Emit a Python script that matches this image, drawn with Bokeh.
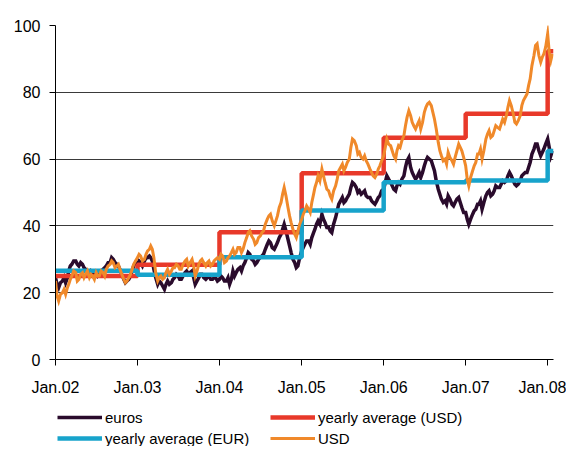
import datetime as dt
from bokeh.plotting import figure
from bokeh.layouts import column
from bokeh.models import Range1d, FixedTicker, DatetimeTickFormatter, Legend, LegendItem
from bokeh.embed import file_html
from bokeh.resources import INLINE

# ---------------- data ----------------
tick_labels = ["Jan.02", "Jan.03", "Jan.04", "Jan.05", "Jan.06", "Jan.07", "Jan.08"]
tick_years = [2002, 2003, 2004, 2005, 2006, 2007, 2008]

# weekly readings (days 1, 8, 15, 23 of each month), USD per barrel
usd_2002 = [23.5, 19.0, 17.5, 19.5, 20.0, 21.0, 19.5, 21.5, 22.5, 24.0, 25.0, 26.5,
            26.0, 23.5, 24.0, 25.5, 26.0, 24.5, 25.5, 26.5, 24.5, 25.5, 25.0, 24.0,
            26.0, 25.0, 25.0, 26.5, 26.0, 25.0, 27.0, 28.0, 28.5, 29.5, 29.0, 27.5,
            28.0, 28.5, 27.0, 25.5, 24.0, 23.0, 23.5, 24.5, 25.5, 27.0, 28.5, 29.5]
usd_2003 = [30.5, 31.5, 31.0, 29.5, 30.0, 31.5, 32.5, 33.0, 34.0, 33.0, 30.5, 26.0,
            23.5, 24.5, 25.0, 24.0, 24.5, 26.0, 27.0, 25.5, 26.5, 27.5, 27.5, 28.5,
            28.0, 27.0, 27.0, 28.5, 29.5, 30.0, 28.0, 29.0, 30.0, 28.0, 25.0, 26.5,
            28.5, 29.5, 30.0, 29.0, 28.0, 29.0, 29.5, 28.0, 28.5, 29.5, 30.0, 30.5]
usd_2004 = [30.0, 31.5, 31.0, 29.0, 29.5, 30.5, 31.0, 32.0, 33.0, 31.5, 32.0, 33.5,
            33.5, 32.0, 33.0, 35.0, 36.5, 38.0, 38.5, 37.0, 36.0, 34.5, 35.0, 36.5,
            37.0, 38.0, 38.5, 40.5, 42.0, 43.0, 43.5, 41.5, 40.0, 41.5, 43.0, 45.5,
            47.0, 49.5, 51.5, 49.0, 45.5, 43.0, 41.0, 39.0, 37.5, 36.5, 38.5, 40.5]
usd_2005 = [42.0, 43.5, 44.5, 46.0, 45.0, 44.0, 47.0, 49.5, 51.5, 53.0, 55.0, 53.5,
            57.0, 55.0, 53.0, 51.0, 50.5, 49.0, 48.0, 50.5, 52.0, 54.0, 56.5, 57.5,
            58.5, 56.5, 57.5, 59.0, 60.0, 63.5, 66.0, 65.5, 64.0, 61.5, 62.0, 60.5,
            60.0, 61.0, 59.5, 58.5, 57.0, 56.0, 55.0, 54.5, 55.5, 57.0, 58.0, 59.5]
usd_2006 = [61.0, 63.5, 66.0, 64.5, 64.0, 62.5, 61.0, 60.0, 62.5, 64.0, 63.5, 65.5,
            67.0, 70.0, 72.5, 74.5, 73.0, 71.0, 70.0, 69.0, 70.5, 71.5, 69.0, 71.0,
            74.0, 75.5, 76.5, 77.0, 76.0, 74.0, 72.0, 69.0, 65.0, 62.5, 61.0, 59.5,
            60.0, 58.5, 62.0, 60.5, 59.5, 58.5, 60.5, 62.5, 64.5, 63.5, 62.5, 60.5]
usd_2007 = [58.0, 54.0, 52.0, 54.5, 56.5, 58.0, 59.0, 61.5, 61.5, 63.0, 60.0, 62.5,
            66.0, 67.5, 68.5, 66.5, 67.0, 68.5, 70.0, 69.5, 69.0, 70.5, 72.0, 71.0,
            73.0, 75.5, 77.5, 76.0, 73.5, 71.0, 70.5, 71.5, 73.0, 76.0, 77.5, 78.5,
            79.5, 82.0, 84.0, 88.0, 91.0, 94.0, 94.5, 91.0, 89.0, 90.5, 91.5, 93.5]
usd_2008 = [97.5, 92.0, 89.5, 91.5]

# weekly readings, EUR per barrel
eur_2002 = [24.5, 22.5, 21.5, 23.0, 23.5, 24.5, 23.0, 24.5, 26.5, 28.0, 28.5, 29.5,
            29.5, 28.5, 28.0, 29.0, 28.5, 27.5, 27.0, 26.0, 25.5, 26.5, 26.0, 25.0,
            26.0, 25.0, 25.5, 26.5, 27.0, 27.5, 28.0, 29.0, 29.0, 30.5, 30.0, 29.0,
            28.5, 28.0, 27.0, 25.5, 24.0, 23.0, 23.5, 24.0, 25.0, 26.5, 28.0, 29.0]
eur_2003 = [28.5, 29.5, 29.0, 28.0, 29.5, 30.5, 30.5, 31.0, 30.5, 29.5, 27.0, 24.5,
            22.5, 23.5, 23.0, 22.0, 21.0, 22.5, 23.5, 22.5, 23.0, 24.0, 24.5, 25.5,
            25.0, 24.0, 24.0, 25.0, 26.0, 26.5, 25.5, 26.0, 26.5, 24.5, 22.5, 23.5,
            24.5, 25.5, 25.5, 24.5, 24.0, 24.5, 25.0, 24.0, 24.0, 24.5, 24.5, 23.5]
eur_2004 = [24.0, 25.0, 24.5, 23.5, 23.5, 24.5, 22.5, 24.0, 26.5, 25.0, 26.0, 27.0,
            27.5, 26.5, 28.0, 29.0, 30.5, 32.0, 31.5, 30.0, 29.5, 28.5, 29.0, 30.0,
            30.5, 31.0, 31.5, 33.0, 34.5, 35.5, 35.0, 33.5, 33.0, 34.0, 35.0, 36.5,
            37.5, 39.0, 40.5, 38.5, 36.0, 34.0, 32.0, 30.0, 29.0, 27.5, 28.0, 30.5]
eur_2005 = [32.5, 33.5, 34.5, 35.5, 35.5, 34.5, 36.5, 38.0, 39.0, 40.5, 41.5, 40.5,
            43.5, 42.0, 41.0, 39.5, 39.5, 38.5, 38.0, 40.5, 42.5, 44.5, 46.5, 47.5,
            48.5, 47.0, 47.5, 48.5, 49.5, 51.5, 53.0, 52.5, 51.5, 50.0, 50.5, 49.5,
            50.0, 50.5, 49.0, 48.5, 48.5, 47.5, 47.0, 46.5, 47.5, 48.5, 49.0, 50.5]
eur_2006 = [51.0, 53.0, 55.0, 54.0, 53.0, 52.0, 51.0, 50.5, 52.0, 53.0, 52.5, 54.0,
            55.0, 57.5, 59.5, 60.5, 57.5, 56.0, 55.0, 54.0, 55.0, 56.0, 54.5, 56.0,
            58.0, 59.5, 60.5, 60.0, 59.5, 58.0, 56.5, 53.5, 51.0, 49.5, 48.0, 47.0,
            47.5, 46.5, 49.0, 48.0, 46.5, 46.0, 47.0, 48.0, 48.5, 47.0, 45.5, 44.0]
eur_2007 = [44.0, 42.0, 40.5, 42.0, 43.5, 44.5, 45.0, 46.5, 46.5, 47.5, 45.0, 47.0,
            49.0, 50.0, 50.5, 49.0, 49.5, 50.5, 52.0, 51.5, 51.5, 52.5, 53.5, 53.0,
            53.5, 55.0, 56.0, 55.0, 53.5, 52.5, 52.0, 52.5, 53.5, 55.0, 55.5, 56.0,
            56.0, 57.5, 59.0, 61.5, 63.0, 64.5, 64.5, 62.5, 61.0, 62.0, 63.0, 64.5]
eur_2008 = [66.0, 63.5, 61.0, 62.5]

# yearly averages (2002 .. 2008)
avg_usd = [25.0, 28.4, 38.1, 55.8, 66.4, 73.6, 92.3]
avg_eur = [26.6, 25.4, 30.6, 44.6, 53.1, 53.6, 62.4]

legend_labels = ["euros", "yearly average (USD)", "yearly average (EUR)", "USD"]

# ---------------- build series ----------------
days = [1, 8, 15, 23]
dates = []
for y in range(2002, 2008):
    for m in range(1, 13):
        for d in days:
            dates.append(dt.datetime(y, m, d))
dates += [dt.datetime(2008, 1, d) for d in (1, 8, 15, 22)]

usd = usd_2002 + usd_2003 + usd_2004 + usd_2005 + usd_2006 + usd_2007 + usd_2008
eur = eur_2002 + eur_2003 + eur_2004 + eur_2005 + eur_2006 + eur_2007 + eur_2008

x_end = dt.datetime(2008, 1, 27)
step_x = [dt.datetime(y, 1, 1) for y in tick_years] + [x_end]
step_usd = avg_usd + [avg_usd[-1]]
step_eur = avg_eur + [avg_eur[-1]]

epoch = dt.datetime(1970, 1, 1)
tick_ms = [(dt.datetime(y, 1, 1) - epoch).total_seconds() * 1000 for y in tick_years]

# ---------------- styles ----------------
FONT = "Liberation Sans"
c_eur = "#2a0b2c"
c_red = "#e8392a"
c_blue = "#17a3cb"
c_org = "#f0892a"
styles = [
    dict(line_color=c_eur, line_width=3.5),
    dict(line_color=c_red, line_width=4.5),
    dict(line_color=c_blue, line_width=4.5),
    dict(line_color=c_org, line_width=3),
]

# ---------------- main figure ----------------
p = figure(width=566, height=404, output_backend="svg", toolbar_location=None,
           x_axis_type="datetime",
           x_range=Range1d(dt.datetime(2002, 1, 1), x_end),
           y_range=Range1d(0, 100),
           min_border_left=55, min_border_right=13, min_border_top=25,
           min_border_bottom=45)
p.outline_line_color = None
p.background_fill_color = "white"
p.border_fill_color = "white"

p.line(dates, eur, line_join="miter", **styles[0])
p.step(step_x, step_usd, mode="after", **styles[1])
p.step(step_x, step_eur, mode="after", **styles[2])
p.line(dates, usd, line_join="miter", **styles[3])

p.xaxis.ticker = FixedTicker(ticks=tick_ms)
fmt = "%b.%y"
p.xaxis.formatter = DatetimeTickFormatter(years=fmt, months=fmt, days=fmt, hours=fmt,
                                          minutes=fmt, seconds=fmt, milliseconds=fmt,
                                          microseconds=fmt, hourmin=fmt, minsec=fmt)
p.yaxis.ticker = FixedTicker(ticks=[0, 20, 40, 60, 80, 100])
for ax in (p.xaxis, p.yaxis):
    ax.axis_line_color = "black"
    ax.axis_line_width = 1
    ax.major_tick_line_color = "black"
    ax.major_tick_out = 6
    ax.major_tick_in = 0
    ax.minor_tick_line_color = None
    ax.major_label_text_font = FONT
    ax.major_label_text_font_size = "16px"
    ax.major_label_text_color = "black"
p.yaxis.major_label_standoff = 9
p.xaxis.major_label_standoff = 13

p.xgrid.grid_line_color = None
p.ygrid.grid_line_color = "#3a3a3a"
p.ygrid.grid_line_width = 1

# ---------------- legend strip ----------------
q = figure(width=566, height=42, output_backend="svg", toolbar_location=None,
           x_range=Range1d(0, 1), y_range=Range1d(0, 1),
           min_border_left=0, min_border_right=0, min_border_top=0, min_border_bottom=0)
q.axis.visible = False
q.grid.visible = False
q.outline_line_color = None
q.background_fill_color = "white"
q.border_fill_color = "white"

items = []
for lab, st in zip(legend_labels, styles):
    # sample renderer kept outside the visible range; only its legend glyph shows
    r = q.line(x=[5, 6], y=[5, 6], **st)
    items.append(LegendItem(label=lab, renderers=[r]))

legend = Legend(items=items, orientation="horizontal", ncols=2, location=(2, -2))
legend.border_line_color = None
legend.background_fill_alpha = 0
legend.padding = 0
legend.margin = 0
legend.spacing = 1
legend.glyph_width = 45
legend.glyph_height = 20
legend.label_height = 20
legend.label_width = 164
legend.label_standoff = 3
legend.label_text_font = FONT
legend.label_text_font_size = "15px"
legend.label_text_color = "black"
q.add_layout(legend, "center")

layout = column(p, q, spacing=0)
open("out.html", "w").write(file_html(layout, INLINE))
